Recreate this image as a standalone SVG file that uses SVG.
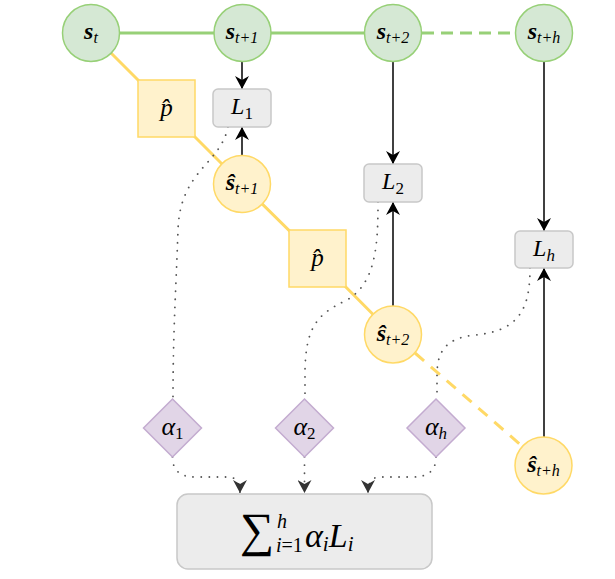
<svg xmlns="http://www.w3.org/2000/svg" width="615" height="579" viewBox="0 0 615 579" font-family="Liberation Serif">
<defs>
<marker id="ab" markerUnits="userSpaceOnUse" viewBox="0 0 14 14" refX="13" refY="7" markerWidth="14" markerHeight="14" orient="auto">
<path d="M0,0 L13,7 L0,14 L4,7 z" fill="#000"/>
</marker>
<marker id="ag" markerUnits="userSpaceOnUse" viewBox="0 0 14 14" refX="13" refY="7" markerWidth="14" markerHeight="14" orient="auto">
<path d="M0,0 L13,7 L0,14 L4,7 z" fill="#333"/>
</marker>
</defs>
<rect width="615" height="579" fill="#fff"/>
<g id="connectors" fill="none">
<g stroke="#97d077" stroke-width="3">
<line x1="91" y1="33" x2="393" y2="33"/>
<line x1="422" y1="33" x2="516" y2="33" stroke-dasharray="12 7"/>
</g>
<g stroke="#ffd966" stroke-width="3">
<polyline points="91,33 166.5,108.5 242,184 317.5,258.5 393,334.5"/>
<line x1="415" y1="353" x2="522" y2="446" stroke-dasharray="12 9"/>
</g>
<g stroke="#000" stroke-width="1.5">
<line x1="242" y1="62" x2="242" y2="89" marker-end="url(#ab)"/>
<line x1="242" y1="155" x2="242" y2="127" marker-end="url(#ab)"/>
<line x1="393" y1="62" x2="393" y2="164" marker-end="url(#ab)"/>
<line x1="393" y1="306" x2="393" y2="202" marker-end="url(#ab)"/>
<line x1="544" y1="62" x2="544" y2="231" marker-end="url(#ab)"/>
<line x1="544" y1="437" x2="544" y2="268" marker-end="url(#ab)"/>
</g>
<g stroke="#555" stroke-width="1.8" stroke-dasharray="0.1 8" stroke-linecap="round">
<path d="M228,127 C220,165 180,170 178,230 C176,290 173,330 173,399"/>
<path d="M378,202 C378,245 376,285 345,301 C315,315 306,330 305,370 L305,399"/>
<path d="M530,268 C530,305 522,331 475,335 C447,338 437,350 437,375 L437,399"/>
<path d="M172.5,457 Q172.5,477 195,477 L228,477 Q240,477 240,493" marker-end="url(#ag)"/>
<path d="M304.5,457 L304.5,493" marker-end="url(#ag)"/>
<path d="M436,457 Q436,477 413,477 L380,477 Q368,477 368,493" marker-end="url(#ag)"/>
</g>
</g>
<g id="s_t"><circle fill="#d5e8d4" stroke="#97d077" stroke-width="1.5" cx="91" cy="33" r="28.5"/><text font-family="Liberation Serif" font-style="italic" font-weight="bold" font-size="24" x="91" y="39" text-anchor="middle">s<tspan font-family="Liberation Serif" font-weight="normal" font-size="16" dy="4">t</tspan></text></g>
<g id="s_t1"><circle fill="#d5e8d4" stroke="#97d077" stroke-width="1.5" cx="242.5" cy="33" r="28.5"/><text font-family="Liberation Serif" font-style="italic" font-weight="bold" font-size="24" x="242" y="39" text-anchor="middle">s<tspan font-family="Liberation Serif" font-weight="normal" font-size="16" dy="4">t+1</tspan></text></g>
<g id="s_t2"><circle fill="#d5e8d4" stroke="#97d077" stroke-width="1.5" cx="393" cy="33" r="28.5"/><text font-family="Liberation Serif" font-style="italic" font-weight="bold" font-size="24" x="393" y="39" text-anchor="middle">s<tspan font-family="Liberation Serif" font-weight="normal" font-size="16" dy="4">t+2</tspan></text></g>
<g id="s_th"><circle fill="#d5e8d4" stroke="#97d077" stroke-width="1.5" cx="544" cy="33" r="28.5"/><text font-family="Liberation Serif" font-style="italic" font-weight="bold" font-size="24" x="544" y="39" text-anchor="middle">s<tspan font-family="Liberation Serif" font-weight="normal" font-size="16" dy="4">t+h</tspan></text></g>
<g id="phat1"><rect fill="#fff2cc" stroke="#ffd966" stroke-width="1.5" x="138" y="80" width="57" height="57"/><text font-family="Liberation Serif" font-style="italic" font-size="25" x="166.5" y="116" text-anchor="middle">p&#x302;</text></g>
<g id="phat2"><rect fill="#fff2cc" stroke="#ffd966" stroke-width="1.5" x="289" y="230" width="57" height="57"/><text font-family="Liberation Serif" font-style="italic" font-size="25" x="317.5" y="266" text-anchor="middle">p&#x302;</text></g>
<g id="L1"><rect fill="#ececec" stroke="#c8c8c8" stroke-width="1.5" x="213" y="89" width="58" height="38" rx="5"/><text font-family="Liberation Serif" font-style="italic" font-size="24" x="242" y="114" text-anchor="middle">L<tspan font-family="Liberation Serif" font-style="normal" font-size="17" dy="5">1</tspan></text></g>
<g id="L2"><rect fill="#ececec" stroke="#c8c8c8" stroke-width="1.5" x="364" y="164" width="58" height="38" rx="5"/><text font-family="Liberation Serif" font-style="italic" font-size="24" x="393" y="189" text-anchor="middle">L<tspan font-family="Liberation Serif" font-style="normal" font-size="17" dy="5">2</tspan></text></g>
<g id="Lh"><rect fill="#ececec" stroke="#c8c8c8" stroke-width="1.5" x="515" y="231" width="58" height="37" rx="5"/><text font-family="Liberation Serif" font-style="italic" font-size="24" x="544" y="256" text-anchor="middle">L<tspan font-family="Liberation Serif" font-size="17" dy="5">h</tspan></text></g>
<g id="shat_t1"><circle fill="#fff2cc" stroke="#ffd966" stroke-width="1.5" cx="242" cy="184" r="28.5"/><text font-family="Liberation Serif" font-style="italic" font-weight="bold" font-size="24" x="242" y="190" text-anchor="middle">ŝ<tspan font-family="Liberation Serif" font-weight="normal" font-size="16" dy="4">t+1</tspan></text></g>
<g id="shat_t2"><circle fill="#fff2cc" stroke="#ffd966" stroke-width="1.5" cx="393" cy="334.5" r="28.5"/><text font-family="Liberation Serif" font-style="italic" font-weight="bold" font-size="24" x="393" y="340.5" text-anchor="middle">ŝ<tspan font-family="Liberation Serif" font-weight="normal" font-size="16" dy="4">t+2</tspan></text></g>
<g id="shat_th"><circle fill="#fff2cc" stroke="#ffd966" stroke-width="1.5" cx="543.5" cy="465.5" r="28.5"/><text font-family="Liberation Serif" font-style="italic" font-weight="bold" font-size="24" x="543.5" y="471.5" text-anchor="middle">ŝ<tspan font-family="Liberation Serif" font-weight="normal" font-size="16" dy="4">t+h</tspan></text></g>
<g id="alpha1"><polygon fill="#e1d5e7" stroke="#c3abd0" stroke-width="1.5" points="172.5,399 201.5,428 172.5,457 143.5,428"/><text font-family="Liberation Serif" font-style="italic" font-size="26" x="172.5" y="435" text-anchor="middle">α<tspan font-family="Liberation Serif" font-style="normal" font-size="17" dy="4">1</tspan></text></g>
<g id="alpha2"><polygon fill="#e1d5e7" stroke="#c3abd0" stroke-width="1.5" points="304.5,399 333.5,428 304.5,457 275.5,428"/><text font-family="Liberation Serif" font-style="italic" font-size="26" x="304.5" y="435" text-anchor="middle">α<tspan font-family="Liberation Serif" font-style="normal" font-size="17" dy="4">2</tspan></text></g>
<g id="alphah"><polygon fill="#e1d5e7" stroke="#c3abd0" stroke-width="1.5" points="436,399 465,428 436,457 407,428"/><text font-family="Liberation Serif" font-style="italic" font-size="26" x="436" y="435" text-anchor="middle">α<tspan font-family="Liberation Serif" font-size="17" dy="4">h</tspan></text></g>
<g id="sum"><rect fill="#ececec" stroke="#c8c8c8" stroke-width="1.5" x="177" y="494" width="255" height="75" rx="11"/>
<text font-family="Liberation Serif" font-size="48" x="240" y="546">∑<tspan font-family="Liberation Serif" font-style="italic" font-size="20" x="277" y="528">h</tspan><tspan font-family="Liberation Serif" font-style="italic" font-size="20" x="276" y="552">i</tspan><tspan font-family="Liberation Serif" font-size="20">=1</tspan><tspan font-family="Liberation Serif" font-style="italic" font-size="34" x="305" y="547">α</tspan><tspan font-family="Liberation Serif" font-style="italic" font-size="21" dy="4">i</tspan><tspan font-family="Liberation Serif" font-style="italic" font-size="34" dy="-4">L</tspan><tspan font-family="Liberation Serif" font-style="italic" font-size="21" dy="4">i</tspan></text>
</g>
</svg>
